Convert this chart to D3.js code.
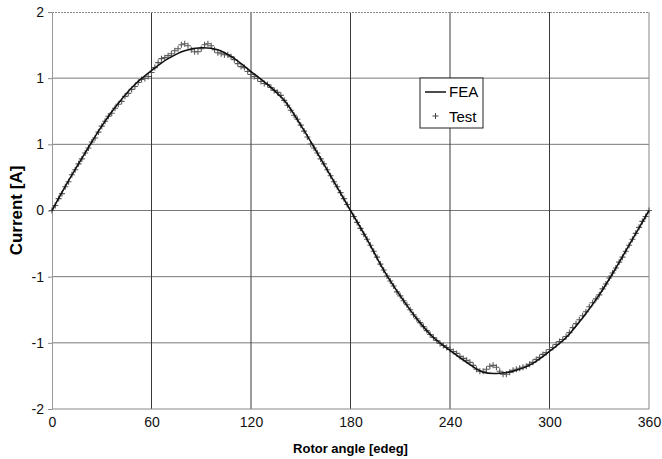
<!DOCTYPE html>
<html>
<head>
<meta charset="utf-8">
<script src="https://cdn.jsdelivr.net/npm/d3@7"></script>
<style>
  body { margin: 0; background: #fff; }
  svg { display: block; font-family: "Liberation Sans", Arial, sans-serif; }
</style>
</head>
<body>
<svg id="chart" width="662" height="459"></svg>
<script>
// FEA curve, every 10 edeg
const feaAngles = d3.range(0, 361, 10);
const feaValues = [0.00, 0.30, 0.58, 0.85, 1.08, 1.27, 1.41, 1.53, 1.61, 1.64,
  1.62, 1.53, 1.40, 1.27, 1.11, 0.86, 0.58, 0.29, 0.00, -0.29,
  -0.60, -0.86, -1.09, -1.28, -1.41, -1.53, -1.63, -1.64, -1.61, -1.54,
  -1.42, -1.28, -1.08, -0.85, -0.58, -0.29, 0.00];

// Test measurement, every 2 edeg
const testAngles = d3.range(0, 361, 2);
const testValues = [0.00, 0.05, 0.12, 0.17, 0.24, 0.29, 0.36, 0.41, 0.47, 0.52,
  0.58, 0.63, 0.69, 0.73, 0.79, 0.85, 0.90, 0.95, 0.98, 1.03,
  1.07, 1.10, 1.15, 1.18, 1.22, 1.25, 1.29, 1.32, 1.33, 1.35,
  1.39, 1.44, 1.49, 1.53, 1.54, 1.56, 1.58, 1.61, 1.63, 1.67,
  1.68, 1.66, 1.62, 1.60, 1.60, 1.63, 1.67, 1.68, 1.66, 1.62,
  1.59, 1.58, 1.57, 1.57, 1.55, 1.52, 1.48, 1.45, 1.44, 1.40,
  1.37, 1.35, 1.33, 1.30, 1.28, 1.27, 1.24, 1.21, 1.19, 1.16,
  1.11, 1.06, 1.01, 0.96, 0.92, 0.86, 0.80, 0.74, 0.67, 0.63,
  0.58, 0.52, 0.47, 0.41, 0.35, 0.29, 0.24, 0.18, 0.12, 0.06,
  0.00, -0.06, -0.12, -0.18, -0.24, -0.29, -0.35, -0.41, -0.47, -0.54,
  -0.60, -0.66, -0.71, -0.76, -0.82, -0.86, -0.91, -0.95, -1.00, -1.05,
  -1.09, -1.13, -1.17, -1.21, -1.25, -1.28, -1.31, -1.34, -1.36, -1.38,
  -1.40, -1.42, -1.44, -1.47, -1.49, -1.51, -1.53, -1.56, -1.60, -1.62,
  -1.62, -1.60, -1.57, -1.56, -1.58, -1.62, -1.65, -1.65, -1.63, -1.61,
  -1.60, -1.59, -1.58, -1.57, -1.55, -1.53, -1.50, -1.48, -1.45, -1.43,
  -1.40, -1.38, -1.35, -1.32, -1.30, -1.27, -1.23, -1.18, -1.14, -1.10,
  -1.06, -1.02, -0.97, -0.93, -0.89, -0.85, -0.79, -0.74, -0.68, -0.63,
  -0.58, -0.52, -0.47, -0.41, -0.35, -0.29, -0.23, -0.17, -0.11, -0.06,
  0.00];

// Axis ticks (labels rounded as in the original)
const xTicks = [0, 60, 120, 180, 240, 300, 360];
const yTicks = [2, 4 / 3, 2 / 3, 0, -2 / 3, -4 / 3, -2];
const yTickLabels = ['2', '1', '1', '0', '-1', '-1', '-2'];

const svg = d3.select('#chart');
const margin = { left: 52, right: 13, top: 12, bottom: 50 };
const width = 662 - margin.left - margin.right;
const height = 459 - margin.top - margin.bottom;

const x = d3.scaleLinear().domain([0, 360]).range([0, width]);
const y = d3.scaleLinear().domain([-2, 2]).range([height, 0]);

const g = svg.append('g').attr('transform', `translate(${margin.left},${margin.top})`);

// Horizontal grid
g.append('g')
  .selectAll('line')
  .data(yTicks.slice(1, -1))
  .join('line')
  .attr('x1', 0).attr('x2', width)
  .attr('y1', d => y(d)).attr('y2', d => y(d))
  .attr('stroke', '#7a7a7a').attr('stroke-width', 1);

// Vertical grid
g.append('g')
  .selectAll('line')
  .data(xTicks.slice(1, -1))
  .join('line')
  .attr('x1', d => x(d)).attr('x2', d => x(d))
  .attr('y1', 0).attr('y2', height)
  .attr('stroke', '#3a3a3a').attr('stroke-width', 1);

// Frame: top dotted, right, bottom
g.append('line').attr('x1', 0).attr('x2', width).attr('y1', 0.5).attr('y2', 0.5)
  .attr('stroke', '#888').attr('stroke-dasharray', '2,1');
g.append('line').attr('x1', width).attr('x2', width).attr('y1', 0).attr('y2', height)
  .attr('stroke', '#888');
g.append('line').attr('x1', 0).attr('x2', width).attr('y1', height).attr('y2', height)
  .attr('stroke', '#888');

// Y axis
const yAxis = g.append('g')
  .call(d3.axisLeft(y).tickValues(yTicks).tickSize(4).tickPadding(4)
    .tickFormat((d, i) => yTickLabels[i]));
yAxis.select('.domain').attr('stroke', '#999');
yAxis.selectAll('.tick line').attr('stroke', '#888');
yAxis.selectAll('text').attr('font-size', 14).attr('fill', '#111')
  .attr('font-family', '"Liberation Sans", Arial, sans-serif');

// X axis
const xAxis = g.append('g')
  .attr('transform', `translate(0,${height})`)
  .call(d3.axisBottom(x).tickValues(xTicks).tickSize(0).tickPadding(8));
xAxis.select('.domain').remove();
xAxis.selectAll('text').attr('font-size', 14).attr('fill', '#111')
  .attr('font-family', '"Liberation Sans", Arial, sans-serif');

// Test markers
const testData = testAngles.map((a, i) => ({ a, v: testValues[i] }));
g.append('g')
  .selectAll('path')
  .data(testData)
  .join('path')
  .attr('d', d => {
    const px = x(d.a), py = y(d.v), s = 3;
    return `M${px - s},${py}H${px + s}M${px},${py - s}V${py + s}`;
  })
  .attr('stroke', '#5a5a5a').attr('stroke-width', 1.1).attr('fill', 'none');

// FEA line
const feaData = feaAngles.map((a, i) => ({ a, v: feaValues[i] }));
g.append('path')
  .datum(feaData)
  .attr('d', d3.line().x(d => x(d.a)).y(d => y(d.v)).curve(d3.curveCatmullRom))
  .attr('fill', 'none')
  .attr('stroke', '#111')
  .attr('stroke-width', 1.6);

// Legend
const legend = svg.append('g').attr('transform', 'translate(420,78)');
legend.append('rect').attr('width', 63).attr('height', 50)
  .attr('fill', '#fff').attr('stroke', '#222');
legend.append('line').attr('x1', 5).attr('x2', 26).attr('y1', 14).attr('y2', 14)
  .attr('stroke', '#111').attr('stroke-width', 1.5);
legend.append('text').attr('x', 29).attr('y', 19).attr('font-size', 15).text('FEA');
legend.append('path').attr('d', 'M12.5,38H18.5M15.5,35V41')
  .attr('stroke', '#444').attr('stroke-width', 1);
legend.append('text').attr('x', 29).attr('y', 44).attr('font-size', 15).text('Test');

// Axis titles
svg.append('text')
  .attr('transform', `translate(22,${margin.top + height / 2}) rotate(-90)`)
  .attr('text-anchor', 'middle')
  .attr('font-size', 17).attr('font-weight', 'bold')
  .text('Current [A]');
svg.append('text')
  .attr('x', margin.left + width / 2).attr('y', 453)
  .attr('text-anchor', 'middle')
  .attr('font-size', 13).attr('font-weight', 'bold')
  .text('Rotor angle [edeg]');
</script>
</body>
</html>
